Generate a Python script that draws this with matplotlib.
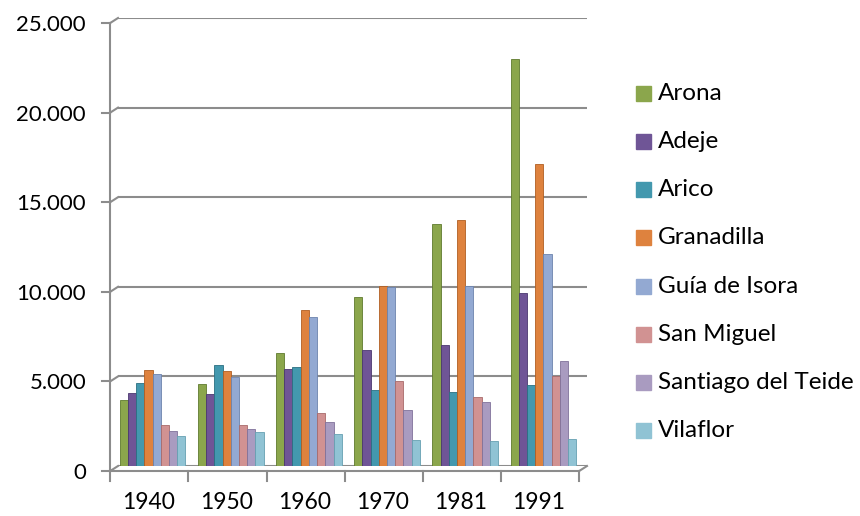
import numpy as np
import matplotlib.pyplot as plt
from matplotlib.patches import Rectangle
from matplotlib.transforms import ScaledTranslation

plt.rcParams['font.family'] = ['Lato', 'DejaVu Sans']

years = ['1940', '1950', '1960', '1970', '1981', '1991']
towns = ['Arona', 'Adeje', 'Arico', 'Granadilla', 'Guía de Isora',
         'San Miguel', 'Santiago del Teide', 'Vilaflor']

arona = [3700, 4600, 6300, 9450, 13500, 22700]
adeje = [4050, 4000, 5400, 6450, 6750, 9650]
arico = [4650, 5650, 5500, 4250, 4150, 4500]
granadilla = [5350, 5300, 8700, 10050, 13700, 16850]
guia = [5150, 4950, 8300, 10000, 10050, 11850]
san_miguel = [2300, 2300, 2950, 4750, 3850, 5050]
santiago = [1950, 2050, 2450, 3100, 3550, 5850]
vilaflor = [1700, 1900, 1800, 1450, 1400, 1500]

series = [arona, adeje, arico, granadilla, guia, san_miguel, santiago, vilaflor]
colors = ['#8BA64C', '#6F5596', '#4398AE', '#DE823E', '#93A9D2',
          '#D19292', '#A99BC0', '#90C3D4']
edges = ['#5f7a2e', '#4b3870', '#2a6f82', '#b05e22', '#6c83ad',
         '#a86a6a', '#80729a', '#66a0b2']

yticks = [0, 5000, 10000, 15000, 20000, 25000]
ytick_labels = ['0', '5.000', '10.000', '15.000', '20.000', '25.000']

fig = plt.figure(figsize=(8.6, 5.16), dpi=100)
ax = fig.add_axes([118/860, 50/516, 469/860, 448/516])

x = np.arange(len(years))
bw = 0.105
shift = -0.058
for i, vals in enumerate(series):
    pos = x + shift + (i - 3.5) * bw
    ax.bar(pos, vals, width=bw, color=colors[i], edgecolor=edges[i],
           linewidth=0.6, zorder=3)

ax.set_xlim(-0.5, 5.5)
ax.set_ylim(0, 25000)

grid_c = '#8c8c8c'
for v in yticks:
    ax.plot([-0.5, 5.5], [v, v], color=grid_c, lw=1.5, zorder=1)

# pseudo 3d front axis (offset down/left from the back wall)
ox, oy = -0.10, -280
ax.plot([-0.5 + ox, -0.5 + ox], [oy, 25000 + oy], color=grid_c, lw=1.5,
        clip_on=False)
for v in yticks:
    ax.plot([-0.5 + ox, -0.5], [v + oy, v], color=grid_c, lw=1.5,
            clip_on=False)
    ax.plot([-0.5 + ox - 0.1, -0.5 + ox], [v + oy, v + oy], color=grid_c,
            lw=1.5, clip_on=False)
ax.plot([-0.5 + ox, 5.5 + ox], [oy, oy], color=grid_c, lw=1.5, clip_on=False)
ax.plot([5.5 + ox, 5.5], [oy, 0], color=grid_c, lw=1.5, clip_on=False)
for k in range(len(years) + 1):
    xx = -0.5 + k + ox
    ax.plot([xx, xx], [oy, oy - 560], color=grid_c, lw=1.5, clip_on=False)

for s in ax.spines.values():
    s.set_visible(False)

ax.set_yticks(yticks)
ax.set_yticklabels(ytick_labels, fontsize=16)
ax.tick_params(axis='y', length=0, pad=23)
for lab in ax.get_yticklabels():
    lab.set_transform(lab.get_transform() + ScaledTranslation(0, -5/100, fig.dpi_scale_trans))

ax.set_xticks(x)
ax.set_xticklabels(years, fontsize=16.5)
ax.tick_params(axis='x', length=0, pad=19)
for lab in ax.get_xticklabels():
    lab.set_transform(lab.get_transform() + ScaledTranslation(-9/100, 0, fig.dpi_scale_trans))

# legend
for i, name in enumerate(towns):
    yc = 93.3 + i * 48.2
    fig.patches.append(Rectangle((636/860, 1 - (yc + 7.5)/516), 15/860, 15/516,
                                 transform=fig.transFigure, color=colors[i]))
    fig.text(658/860, 1 - yc/516, name, fontsize=17.5, va='center', ha='left')

fig.savefig('out.png', dpi=100)
